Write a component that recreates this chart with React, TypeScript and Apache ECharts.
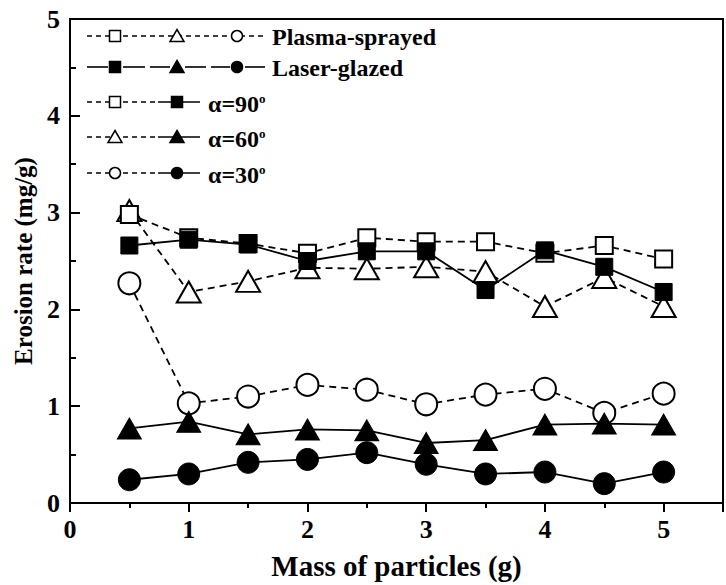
import React, { useEffect, useRef } from "react";
import * as echarts from "echarts";

const massX = [0.5, 1, 1.5, 2, 2.5, 3, 3.5, 4, 4.5, 5];
const plasma90 = [2.98, 2.74, 2.68, 2.58, 2.74, 2.70, 2.70, 2.58, 2.66, 2.52];
const laser90 = [2.66, 2.72, 2.67, 2.50, 2.60, 2.60, 2.20, 2.61, 2.44, 2.18];
const plasma60 = [3.02, 2.18, 2.29, 2.43, 2.42, 2.44, 2.39, 2.03, 2.33, 2.03];
const laser60 = [0.77, 0.84, 0.71, 0.76, 0.75, 0.62, 0.65, 0.81, 0.82, 0.81];
const plasma30 = [2.27, 1.03, 1.10, 1.22, 1.17, 1.02, 1.12, 1.18, 0.93, 1.13];
const laser30 = [0.24, 0.30, 0.42, 0.45, 0.52, 0.40, 0.30, 0.32, 0.20, 0.32];

const legendRows = ["Plasma-sprayed", "Laser-glazed"];
const angleLabels = ["α=90", "α=60", "α=30"];

const FONT = "Liberation Serif";

function pairs(vals: number[]) {
  return massX.map((x, i) => [x, vals[i]]);
}

export default function App() {
  const ref = useRef<HTMLDivElement>(null);
  useEffect(() => {
    if (!ref.current) return;
    const chart = echarts.init(ref.current, undefined, { renderer: "svg" });

    const dashed = [7, 5];
    const lineSeries = (vals: number[], plasma: boolean) => ({
      type: "line",
      data: pairs(vals),
      symbol: "none",
      showSymbol: false,
      z: 1,
      silent: true,
      lineStyle: { color: "#000", width: 1.8, type: plasma ? dashed : "solid" },
    });
    const markSeries = (vals: number[], symbol: string, size: any, filled: boolean, z: number) => ({
      type: "scatter",
      data: pairs(vals),
      symbol,
      symbolSize: size,
      z,
      itemStyle: {
        color: filled ? "#000" : "#fff",
        borderColor: "#000",
        borderWidth: filled ? 1 : 2,
        opacity: 1,
      },
    });

    const SQ = 17;
    const TRI = [24, 21];
    const CI = 22;

    // legend graphics
    const g: any[] = [];
    const ls = (x1: number, x2: number, y: number, dash: boolean) =>
      g.push({
        type: "line",
        shape: { x1, y1: y, x2, y2: y },
        style: { stroke: "#000", lineWidth: 1.6, lineDash: dash ? [5, 4] : null },
        z: 10,
      });
    const sym = (kind: string, cx: number, cy: number, filled: boolean) => {
      const style = { fill: filled ? "#000" : "#fff", stroke: "#000", lineWidth: 1.5 };
      if (kind === "sq") g.push({ type: "rect", shape: { x: cx - 5.5, y: cy - 5.5, width: 11, height: 11 }, style, z: 11 });
      if (kind === "tri")
        g.push({ type: "polygon", shape: { points: [[cx, cy - 6.5], [cx + 7, cy + 5.5], [cx - 7, cy + 5.5]] }, style, z: 11 });
      if (kind === "ci") g.push({ type: "circle", shape: { cx, cy, r: 5.5 }, style, z: 11 });
    };
    const txt = (text: string, x: number, y: number) =>
      g.push({
        type: "text",
        x,
        y,
        style: { text, fill: "#000", font: `bold 24px "${FONT}"`, textVerticalAlign: "middle" },
        z: 11,
      });

    // row 1: plasma (dashed, open)
    const r1 = 36;
    ls(87, 265, r1, true);
    sym("sq", 115, r1, false);
    sym("tri", 177, r1, false);
    sym("ci", 237, r1, false);
    txt(legendRows[0], 272, r1 + 1);
    // row 2: laser (solid, filled)
    const r2 = 67;
    [[87, 108], [123, 145], [150, 170], [185, 206], [211, 230], [245, 265]].forEach(([a, b]) => ls(a, b, r2, false));
    sym("sq", 115, r2, true);
    sym("tri", 177, r2, true);
    sym("ci", 237, r2, true);
    txt(legendRows[1], 272, r2 + 1);
    // rows 3-5: angles
    const kinds = ["sq", "tri", "ci"];
    const rowsY = [102, 137, 173];
    rowsY.forEach((y, i) => {
      ls(87, 158, y, true);
      ls(158, 200, y, false);
      sym(kinds[i], 115, y, false);
      sym(kinds[i], 177, y, true);
      g.push({
        type: "text",
        x: 208,
        y: y + 2,
        style: {
          text: `{a|${angleLabels[i]}}{s|o}`,
          fill: "#000",
          textVerticalAlign: "middle",
          rich: {
            a: { fontFamily: FONT, fontWeight: "bold", fontSize: 24, fill: "#000" },
            s: { fontFamily: FONT, fontWeight: "bold", fontSize: 13, verticalAlign: "top", fill: "#000" },
          },
        },
        z: 11,
      });
    });

    const axisLabelStyle = { color: "#000", fontFamily: FONT, fontWeight: "bold", fontSize: 26 };

    chart.setOption({
      animation: false,
      backgroundColor: "#fff",
      grid: {
        left: 70,
        top: 19,
        bottom: 78,
        right: -10,
        show: true,
        borderColor: "#000",
        borderWidth: 2,
        backgroundColor: "transparent",
      },
      xAxis: {
        type: "value",
        min: 0,
        max: 5.5,
        interval: 1,
        name: "Mass of particles (g)",
        nameLocation: "middle",
        nameGap: 48,
        nameTextStyle: { color: "#000", fontFamily: FONT, fontWeight: "bold", fontSize: 29 },
        axisLine: { show: true, onZero: false, lineStyle: { color: "#000", width: 2 } },
        axisTick: { show: true, inside: false, length: 9, lineStyle: { color: "#000", width: 2 } },
        minorTick: { show: true, splitNumber: 2, length: 5, lineStyle: { color: "#000", width: 2 } },
        splitLine: { show: false },
        axisLabel: { ...axisLabelStyle, margin: 13, formatter: (v: number) => (Number.isInteger(v) ? String(v) : "") },
      },
      yAxis: {
        type: "value",
        min: 0,
        max: 5,
        interval: 1,
        name: "Erosion rate (mg/g)",
        nameLocation: "middle",
        nameGap: 32,
        nameTextStyle: { color: "#000", fontFamily: FONT, fontWeight: "bold", fontSize: 25 },
        axisLine: { show: true, onZero: false, lineStyle: { color: "#000", width: 2 } },
        axisTick: { show: true, inside: true, length: 10, lineStyle: { color: "#000", width: 2 } },
        minorTick: { show: true, splitNumber: 2, length: 6, lineStyle: { color: "#000", width: 2 } },
        splitLine: { show: false },
        axisLabel: { ...axisLabelStyle, margin: 10 },
      },
      graphic: g,
      series: [
        lineSeries(plasma90, true),
        lineSeries(plasma60, true),
        lineSeries(plasma30, true),
        lineSeries(laser90, false),
        lineSeries(laser60, false),
        lineSeries(laser30, false),
        markSeries(plasma60, "triangle", TRI, false, 2),
        markSeries(plasma30, "circle", CI, false, 3),
        markSeries(plasma90, "rect", SQ, false, 4),
        markSeries(laser60, "triangle", TRI, true, 5),
        markSeries(laser30, "circle", CI, true, 6),
        markSeries(laser90, "rect", SQ, true, 7),
      ],
    });
    return () => chart.dispose();
  }, []);
  return (
    <div
      ref={ref}
      style={{ position: "fixed", left: 0, top: 0, width: 726, height: 585, background: "#fff" }}
    />
  );
}
